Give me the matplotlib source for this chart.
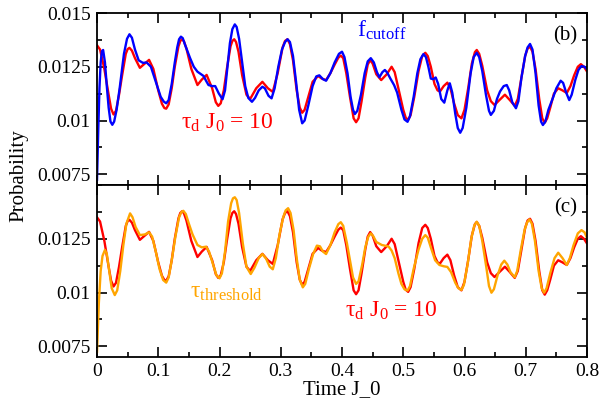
import matplotlib
matplotlib.use('Agg')
import matplotlib.pyplot as plt
from matplotlib.ticker import MultipleLocator

plt.rcParams['font.family'] = ['Liberation Serif', 'DejaVu Serif']
plt.rcParams['mathtext.fontset'] = 'custom'
plt.rcParams['mathtext.rm'] = 'Liberation Serif'
plt.rcParams['mathtext.it'] = 'Liberation Serif'

## (time, probability)
## tau_d J_0 = 10 curve, same in both panels
red_pts = [
    (0.000, 0.01350), (0.005, 0.01330), (0.012, 0.01240), (0.019, 0.01120), (0.023, 0.01055),
    (0.027, 0.01028), (0.031, 0.01045), (0.036, 0.01120), (0.041, 0.01210), (0.047, 0.01310),
    (0.050, 0.01332), (0.053, 0.01338), (0.057, 0.01325), (0.062, 0.01290), (0.070, 0.01245),
    (0.078, 0.01265), (0.085, 0.01282), (0.092, 0.01240), (0.100, 0.01140), (0.106, 0.01078),
    (0.110, 0.01058), (0.113, 0.01055), (0.117, 0.01075), (0.122, 0.01150), (0.127, 0.01250),
    (0.133, 0.01345), (0.136, 0.01370), (0.139, 0.01378), (0.142, 0.01368), (0.146, 0.01335),
    (0.154, 0.01240), (0.164, 0.01165), (0.171, 0.01190), (0.179, 0.01212), (0.188, 0.01150),
    (0.194, 0.01085), (0.198, 0.01068), (0.202, 0.01080), (0.207, 0.01140), (0.212, 0.01240),
    (0.218, 0.01345), (0.221, 0.01370), (0.224, 0.01378), (0.227, 0.01365), (0.231, 0.01320),
    (0.237, 0.01210), (0.244, 0.01120), (0.250, 0.01100), (0.260, 0.01150), (0.270, 0.01180),
    (0.279, 0.01150), (0.287, 0.01133), (0.295, 0.01220), (0.303, 0.01340), (0.307, 0.01370),
    (0.311, 0.01378), (0.315, 0.01355), (0.320, 0.01280), (0.326, 0.01140), (0.331, 0.01060),
    (0.335, 0.01036), (0.339, 0.01050), (0.345, 0.01110), (0.352, 0.01180), (0.361, 0.01207),
    (0.367, 0.01195), (0.374, 0.01188), (0.381, 0.01220), (0.388, 0.01260), (0.394, 0.01292),
    (0.398, 0.01302), (0.402, 0.01290), (0.407, 0.01220), (0.413, 0.01110), (0.419, 0.01010),
    (0.423, 0.00992), (0.427, 0.01010), (0.432, 0.01090), (0.438, 0.01200), (0.442, 0.01260),
    (0.446, 0.01281), (0.450, 0.01265), (0.456, 0.01215), (0.464, 0.01188), (0.473, 0.01215),
    (0.481, 0.01250), (0.486, 0.01225), (0.492, 0.01150), (0.500, 0.01050), (0.504, 0.01013),
    (0.508, 0.01003), (0.512, 0.01025), (0.518, 0.01110), (0.525, 0.01230), (0.531, 0.01300),
    (0.536, 0.01315), (0.540, 0.01300), (0.545, 0.01250), (0.551, 0.01170), (0.556, 0.01140),
    (0.560, 0.01135), (0.566, 0.01160), (0.572, 0.01176), (0.577, 0.01150), (0.583, 0.01080),
    (0.589, 0.01025), (0.595, 0.01010), (0.600, 0.01050), (0.606, 0.01150), (0.612, 0.01265),
    (0.617, 0.01318), (0.620, 0.01328), (0.624, 0.01310), (0.629, 0.01255), (0.637, 0.01140),
    (0.643, 0.01090), (0.649, 0.01072), (0.657, 0.01095), (0.666, 0.01120), (0.674, 0.01095),
    (0.682, 0.01068), (0.687, 0.01100), (0.693, 0.01200), (0.699, 0.01300), (0.703, 0.01335),
    (0.707, 0.01343), (0.711, 0.01320), (0.716, 0.01240), (0.722, 0.01100), (0.727, 0.01010),
    (0.731, 0.00990), (0.735, 0.01010), (0.740, 0.01060), (0.746, 0.01125), (0.753, 0.01150),
    (0.760, 0.01140), (0.767, 0.01128), (0.773, 0.01160), (0.779, 0.01210), (0.785, 0.01250),
    (0.790, 0.01262), (0.795, 0.01250), (0.800, 0.01228),
]

## f_cutoff curve, panel (b)
blue_pts = [
    (0.000, 0.00720), (0.002, 0.00950), (0.004, 0.01150), (0.006, 0.01270), (0.008, 0.01322),
    (0.010, 0.01328), (0.013, 0.01270), (0.016, 0.01160), (0.019, 0.01060), (0.022, 0.00995),
    (0.025, 0.00980), (0.028, 0.00995), (0.032, 0.01050), (0.037, 0.01150), (0.044, 0.01310),
    (0.049, 0.01380), (0.053, 0.01401), (0.057, 0.01385), (0.062, 0.01330), (0.068, 0.01280),
    (0.075, 0.01268), (0.081, 0.01270), (0.088, 0.01250), (0.096, 0.01180), (0.104, 0.01110),
    (0.109, 0.01088), (0.113, 0.01080), (0.117, 0.01095), (0.122, 0.01170), (0.127, 0.01270),
    (0.131, 0.01340), (0.134, 0.01378), (0.137, 0.01390), (0.140, 0.01383), (0.144, 0.01350),
    (0.152, 0.01290), (0.158, 0.01250), (0.164, 0.01227), (0.170, 0.01215), (0.174, 0.01207),
    (0.178, 0.01185), (0.182, 0.01165), (0.188, 0.01160), (0.193, 0.01160), (0.199, 0.01125),
    (0.205, 0.01099), (0.209, 0.01140), (0.213, 0.01250), (0.217, 0.01360), (0.221, 0.01425),
    (0.225, 0.01447), (0.228, 0.01435), (0.232, 0.01380), (0.237, 0.01270), (0.242, 0.01160),
    (0.247, 0.01105), (0.253, 0.01087), (0.258, 0.01105), (0.264, 0.01140), (0.270, 0.01157),
    (0.274, 0.01150), (0.280, 0.01115), (0.285, 0.01103), (0.290, 0.01150), (0.296, 0.01250),
    (0.302, 0.01330), (0.307, 0.01365), (0.311, 0.01378), (0.315, 0.01365), (0.320, 0.01300),
    (0.325, 0.01180), (0.330, 0.01050), (0.335, 0.00987), (0.339, 0.01000), (0.345, 0.01070),
    (0.352, 0.01160), (0.358, 0.01205), (0.363, 0.01210), (0.369, 0.01192), (0.374, 0.01185),
    (0.381, 0.01220), (0.388, 0.01270), (0.395, 0.01310), (0.400, 0.01320), (0.404, 0.01295),
    (0.409, 0.01220), (0.414, 0.01110), (0.418, 0.01050), (0.421, 0.01030), (0.425, 0.01045),
    (0.431, 0.01120), (0.437, 0.01220), (0.442, 0.01275), (0.447, 0.01290), (0.452, 0.01270),
    (0.457, 0.01225), (0.461, 0.01201), (0.466, 0.01225), (0.470, 0.01235), (0.474, 0.01222),
    (0.479, 0.01195), (0.485, 0.01165), (0.490, 0.01130), (0.497, 0.01050), (0.502, 0.01005),
    (0.507, 0.00994), (0.511, 0.01020), (0.517, 0.01110), (0.523, 0.01220), (0.528, 0.01285),
    (0.533, 0.01309), (0.537, 0.01295), (0.541, 0.01250), (0.545, 0.01195), (0.549, 0.01192),
    (0.553, 0.01200), (0.557, 0.01170), (0.562, 0.01100), (0.567, 0.01083), (0.572, 0.01140),
    (0.576, 0.01173), (0.580, 0.01130), (0.585, 0.01030), (0.589, 0.00965), (0.593, 0.00943),
    (0.597, 0.00965), (0.603, 0.01060), (0.610, 0.01220), (0.615, 0.01295), (0.620, 0.01315),
    (0.624, 0.01295), (0.629, 0.01230), (0.635, 0.01120), (0.640, 0.01045), (0.643, 0.01026),
    (0.648, 0.01045), (0.653, 0.01100), (0.658, 0.01135), (0.664, 0.01160), (0.669, 0.01165),
    (0.673, 0.01140), (0.678, 0.01085), (0.684, 0.01057), (0.688, 0.01090), (0.693, 0.01200),
    (0.699, 0.01300), (0.703, 0.01340), (0.707, 0.01356), (0.711, 0.01330), (0.716, 0.01220),
    (0.721, 0.01070), (0.725, 0.00995), (0.728, 0.00979), (0.732, 0.00995), (0.737, 0.01050),
    (0.745, 0.01110), (0.750, 0.01150), (0.757, 0.01185), (0.761, 0.01175), (0.766, 0.01130),
    (0.771, 0.01095), (0.775, 0.01120), (0.781, 0.01190), (0.786, 0.01235), (0.791, 0.01253),
    (0.796, 0.01250), (0.800, 0.01238),
]

## tau_threshold curve, panel (c)
orange_pts = [
    (0.000, 0.00720), (0.003, 0.00950), (0.006, 0.01100), (0.009, 0.01170), (0.013, 0.01198),
    (0.016, 0.01180), (0.020, 0.01100), (0.024, 0.01020), (0.029, 0.00988), (0.033, 0.01010),
    (0.038, 0.01100), (0.043, 0.01220), (0.048, 0.01320), (0.054, 0.01368), (0.058, 0.01350),
    (0.063, 0.01305), (0.070, 0.01267), (0.078, 0.01270), (0.085, 0.01280), (0.090, 0.01260),
    (0.096, 0.01190), (0.102, 0.01110), (0.108, 0.01058), (0.113, 0.01046), (0.117, 0.01070),
    (0.122, 0.01150), (0.128, 0.01260), (0.134, 0.01350), (0.138, 0.01375), (0.141, 0.01380),
    (0.145, 0.01365), (0.150, 0.01320), (0.156, 0.01270), (0.164, 0.01221), (0.171, 0.01210),
    (0.178, 0.01213), (0.183, 0.01190), (0.189, 0.01135), (0.195, 0.01080), (0.200, 0.01066),
    (0.204, 0.01090), (0.209, 0.01190), (0.214, 0.01330), (0.219, 0.01415), (0.222, 0.01438),
    (0.225, 0.01443), (0.228, 0.01430), (0.232, 0.01370), (0.238, 0.01230), (0.244, 0.01120),
    (0.251, 0.01086), (0.257, 0.01115), (0.264, 0.01160), (0.270, 0.01179), (0.276, 0.01158),
    (0.282, 0.01120), (0.287, 0.01108), (0.292, 0.01160), (0.298, 0.01270), (0.304, 0.01350),
    (0.308, 0.01382), (0.312, 0.01392), (0.316, 0.01370), (0.321, 0.01290), (0.326, 0.01160),
    (0.331, 0.01060), (0.336, 0.01024), (0.340, 0.01040), (0.346, 0.01110), (0.353, 0.01180),
    (0.359, 0.01218), (0.364, 0.01215), (0.369, 0.01190), (0.374, 0.01179), (0.381, 0.01220),
    (0.388, 0.01280), (0.394, 0.01318), (0.398, 0.01327), (0.402, 0.01310), (0.408, 0.01230),
    (0.413, 0.01150), (0.418, 0.01070), (0.423, 0.01040), (0.427, 0.01052), (0.433, 0.01130),
    (0.438, 0.01210), (0.443, 0.01260), (0.447, 0.01275), (0.451, 0.01262), (0.456, 0.01235),
    (0.465, 0.01221), (0.476, 0.01214), (0.481, 0.01195), (0.486, 0.01160), (0.492, 0.01090),
    (0.497, 0.01040), (0.502, 0.01015), (0.507, 0.01009), (0.511, 0.01030), (0.517, 0.01110),
    (0.525, 0.01200), (0.531, 0.01250), (0.536, 0.01267), (0.540, 0.01255), (0.545, 0.01210),
    (0.552, 0.01150), (0.559, 0.01128), (0.566, 0.01122), (0.572, 0.01119), (0.578, 0.01095),
    (0.585, 0.01045), (0.590, 0.01020), (0.595, 0.01012), (0.599, 0.01035), (0.605, 0.01130),
    (0.611, 0.01250), (0.616, 0.01312), (0.620, 0.01329), (0.624, 0.01310), (0.629, 0.01240),
    (0.636, 0.01110), (0.640, 0.01030), (0.644, 0.00999), (0.648, 0.01015), (0.654, 0.01080),
    (0.660, 0.01130), (0.665, 0.01148), (0.670, 0.01130), (0.675, 0.01095), (0.682, 0.01071),
    (0.686, 0.01100), (0.692, 0.01200), (0.698, 0.01290), (0.702, 0.01325), (0.706, 0.01340),
    (0.710, 0.01320), (0.715, 0.01240), (0.721, 0.01100), (0.726, 0.01020), (0.730, 0.00999),
    (0.734, 0.01020), (0.740, 0.01090), (0.747, 0.01160), (0.753, 0.01185), (0.760, 0.01160),
    (0.767, 0.01128), (0.772, 0.01160), (0.778, 0.01220), (0.785, 0.01275), (0.791, 0.01290),
    (0.796, 0.01280), (0.800, 0.01253),
]

top_yticks = [0.0075, 0.01, 0.0125, 0.015]
top_ylabels = ['0.0075', '0.01', '0.0125', '0.015']
bot_yticks = [0.0075, 0.01, 0.0125]
bot_ylabels = ['0.0075', '0.01', '0.0125']
xticks = [0, 0.1, 0.2, 0.3, 0.4, 0.5, 0.6, 0.7, 0.8]
xlabels = ['0', '0.1', '0.2', '0.3', '0.4', '0.5', '0.6', '0.7', '0.8']

red_t, red_p = zip(*red_pts)
blue_t, blue_p = zip(*blue_pts)
orange_t, orange_p = zip(*orange_pts)

fig = plt.figure(figsize=(6.1, 4.03), dpi=100)
fig.subplots_adjust(left=97/610, right=587/610, bottom=1-357/403, top=1-13/403, hspace=0)
ax1 = fig.add_subplot(2, 1, 1)
ax2 = fig.add_subplot(2, 1, 2, sharex=ax1)

line_kw = dict(lw=1.7, solid_joinstyle='round', solid_capstyle='round')
ax1.plot(red_t, red_p, color='#ff0000', **line_kw)
ax1.plot(blue_t, blue_p, color='#0000ff', **line_kw)
ax2.plot(red_t, red_p, color='#ff0000', **line_kw)
ax2.plot(orange_t, orange_p, color='#ffa500', **line_kw)

for ax in (ax1, ax2):
    ax.set_xlim(0, 0.8)
    ax.set_ylim(0.007, 0.015)
    ax.xaxis.set_minor_locator(MultipleLocator(0.05))
    ax.yaxis.set_minor_locator(MultipleLocator(0.00125))
    ax.tick_params(which='both', direction='in', top=True, right=True, width=1.2,
                   labelsize=14, pad=4.5)
    ax.tick_params(which='major', length=7)
    ax.tick_params(which='minor', length=3.8)
    for s in ax.spines.values():
        s.set_linewidth(1.3)

ax1.set_yticks(top_yticks)
ax1.set_yticklabels(top_ylabels)
ax2.set_yticks(bot_yticks)
ax2.set_yticklabels(bot_ylabels)
ax2.set_xticks(xticks)
ax2.set_xticklabels(xlabels)
ax1.tick_params(labelbottom=False)
ax2.set_xlabel('Time J_0', fontsize=15, labelpad=0)
fig.text(19/610, 1-176/403, 'Probability', rotation=90, fontsize=15,
         ha='center', va='center')

ax1.text(0.4245, 0.01388, r'$\mathregular{f_{cutoff}}$', color='#0000ff', fontsize=17)
ax1.text(0.1366, 0.00964, r'$\mathregular{\tau_d\ J_0}$ = 10', color='#ff0000', fontsize=17)
ax2.text(0.1518, 0.00974, r'$\mathregular{\tau_{threshold}}$', color='#ffa500', fontsize=17)
ax2.text(0.405, 0.00888, r'$\mathregular{\tau_d\ J_0}$ = 10', color='#ff0000', fontsize=17)
ax1.text(0.98, 0.843, '(b)', transform=ax1.transAxes, fontsize=15, ha='right', va='baseline')
ax2.text(0.98, 0.843, '(c)', transform=ax2.transAxes, fontsize=15, ha='right', va='baseline')

plt.savefig('out.png', dpi=100)
